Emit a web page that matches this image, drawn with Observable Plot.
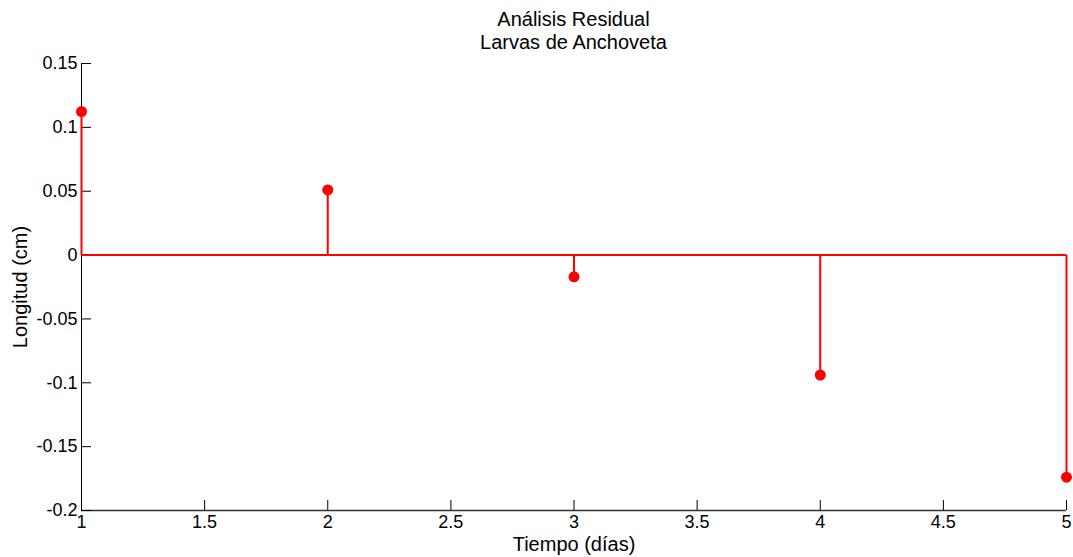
<!DOCTYPE html>
<html>
<head>
<meta charset="utf-8">
<script src="https://cdn.jsdelivr.net/npm/d3@7"></script>
<script src="https://cdn.jsdelivr.net/npm/@observablehq/plot@0.6"></script>
<style>
  html, body { margin: 0; padding: 0; background: #fff; }
  #wrap { width: 1073px; height: 557px; position: relative; font-family: "Liberation Sans", Arial, sans-serif; }
  #title { position: absolute; left: 0; top: 0; width: 1073px; box-sizing: border-box; padding: 8px 7px 0 81px; text-align: center; font-size: 20px; line-height: 23px; color: #000; z-index: 2; }
  #chart svg { display: block; }
</style>
</head>
<body>
<div id="wrap">
  <div id="chart"></div>
  <div id="title">Análisis Residual<br>Larvas de Anchoveta</div>
</div>
<script>
const dias = [1, 2, 3, 4, 5];
const residuos = [0.1124, 0.0510, -0.0170, -0.0939, -0.1739];
const xTicks = [1, 1.5, 2, 2.5, 3, 3.5, 4, 4.5, 5];
const yTicks = [-0.2, -0.15, -0.1, -0.05, 0, 0.05, 0.1, 0.15];
const xLabel = "Tiempo (días)";
const yLabel = "Longitud (cm)";

const data = dias.map((d, i) => ({dia: d, res: residuos[i]}));
const xDom = [d3.min(xTicks), d3.max(xTicks)];
const yDom = [d3.min(yTicks), d3.max(yTicks)];

const chart = Plot.plot({
  width: 1073,
  height: 557,
  marginTop: 63,
  marginBottom: 47,
  marginLeft: 81,
  marginRight: 7,
  style: {fontFamily: "'Liberation Sans', Arial, sans-serif", fontSize: "18px", color: "#000", background: "#fff"},
  x: {domain: xDom},
  y: {domain: yDom},
  marks: [
    Plot.ruleX([xDom[0]], {stroke: "#000", strokeWidth: 1}),
    Plot.ruleY([yDom[0]], {stroke: "#333", strokeWidth: 1.5}),
    Plot.axisX({ticks: xTicks, tickSize: -10, tickPadding: 15, tickFormat: d => String(d), label: null, stroke: "#000"}),
    Plot.axisY({ticks: yTicks, tickSize: -10, tickPadding: 14, tickFormat: d => String(d), label: null, stroke: "#000"}),
    Plot.ruleY([0], {x1: d3.min(dias), x2: d3.max(dias), stroke: "red", strokeWidth: 2}),
    Plot.ruleX(data, {x: "dia", y1: 0, y2: "res", stroke: "red", strokeWidth: 2}),
    Plot.dot(data, {x: "dia", y: "res", r: 5.5, fill: "red", stroke: "none"}),
    Plot.text([xLabel], {frameAnchor: "bottom", dy: 34, text: d => d, fontSize: 20, textAnchor: "middle", lineAnchor: "middle", fill: "#000"}),
    Plot.text([yLabel], {frameAnchor: "left", dx: -61, rotate: -90, text: d => d, fontSize: 20, textAnchor: "middle", lineAnchor: "middle", fill: "#000"})
  ]
});
document.getElementById("chart").appendChild(chart);
</script>
</body>
</html>
